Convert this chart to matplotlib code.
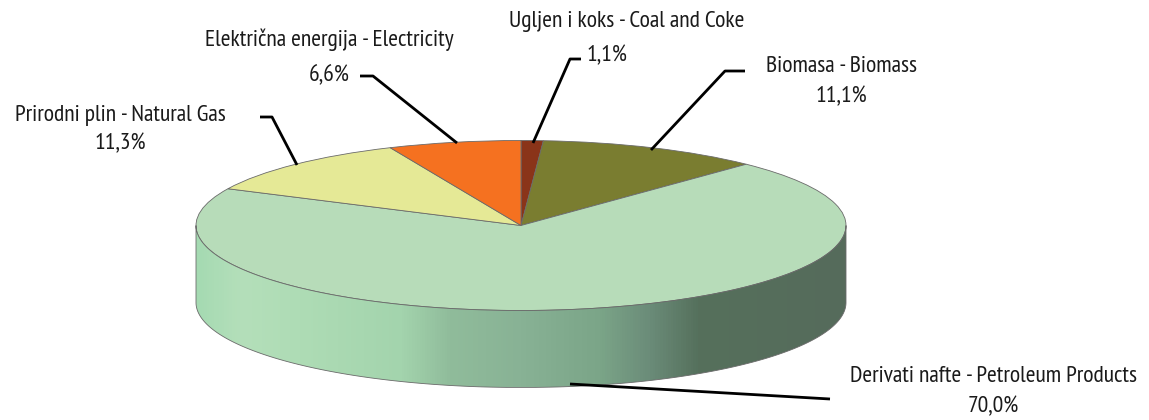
import numpy as np
import matplotlib
matplotlib.use('Agg')
import matplotlib.pyplot as plt
from matplotlib.colors import LinearSegmentedColormap
from matplotlib.patches import Polygon

# slices, clockwise from the top
labels = ['Ugljen i koks - Coal and Coke', 'Biomasa - Biomass',
          'Derivati nafte - Petroleum Products', 'Prirodni plin - Natural Gas',
          'Električna energija - Electricity']
values = [1.1, 11.1, 70.0, 11.3, 6.6]
colors = ['#8a3419', '#7a7d30', '#b7dcb9', '#e5e996', '#f57120']

plt.rcParams['font.family'] = ['PT Sans Narrow', 'DejaVu Sans']

W, H = 1149, 420
cx, cy, rx, ry, depth = 521, 225.5, 325, 85, 77

fig = plt.figure(figsize=(W / 100, H / 100), dpi=100)

# top of the pie, the axes box is the ellipse so the circle gets squashed
ax = fig.add_axes([(cx - rx) / W, (H - cy - ry) / H, 2 * rx / W, 2 * ry / H])
ax.pie(values, colors=colors, startangle=90, counterclock=False, radius=1,
       wedgeprops={'edgecolor': '#6a6a6a', 'linewidth': 0.6})
ax.set_aspect('auto')
ax.set_xlim(-1, 1)
ax.set_ylim(-1, 1)

# overlay in pixel coordinates for the side wall, leaders and labels
top = fig.add_axes([0, 0, 1, 1], zorder=3)
top.patch.set_alpha(0)
top.axis('off')

t = np.linspace(0, np.pi, 300)
xs = cx + rx * np.cos(t)
ys = cy + ry * np.sin(t)
wall = np.r_[np.c_[xs, ys], np.c_[xs[::-1], ys[::-1] + depth]]

stops = [(196, '#a5dab2'), (240, '#b4dfba'), (300, '#aedcb5'), (400, '#a3d4ad'),
         (450, '#90bc9b'), (521, '#88b295'), (600, '#7ba588'), (650, '#6b8c79'),
         (700, '#55705c'), (846, '#566b5b')]
cmap = LinearSegmentedColormap.from_list(
    'wall', [((x - 196) / 650, c) for x, c in stops])
im = top.imshow(np.linspace(0, 1, 650)[None, :], cmap=cmap, aspect='auto',
                extent=(196, 846, cy + ry + depth, cy), zorder=1)
patch = Polygon(wall, closed=True, facecolor='none', edgecolor='#6a6a6a',
                linewidth=0.6, zorder=2)
top.add_patch(patch)
im.set_clip_path(patch)

top.set_xlim(0, W)
top.set_ylim(H, 0)

# leader lines
leaders = [
    ([581, 570, 533], [59, 59, 143]),
    ([745, 725, 651], [71, 71, 150]),
    ([570, 830], [384, 399]),
    ([260, 272, 297], [117, 117, 165]),
    ([360, 373, 457], [76, 76, 143]),
]
for lx, ly in leaders:
    top.plot(lx, ly, color='black', lw=2, solid_capstyle='butt', zorder=4)

# label centre x/y, then percent centre x/y
label_pos = [(627, 21), (841, 66), (993, 377), (120, 115), (329, 40)]
pct_pos = [(607, 56), (841, 97), (993, 407), (120, 144), (329, 76)]
for name, v, (x1, y1), (x2, y2) in zip(labels, values, label_pos, pct_pos):
    top.text(x1, y1, name, ha='center', va='center', fontsize=17, color='#1a1a1a')
    top.text(x2, y2, f'{v:.1f}'.replace('.', ',') + '%', ha='center', va='center',
             fontsize=17, color='#1a1a1a')

fig.savefig('out.png', dpi=100)
